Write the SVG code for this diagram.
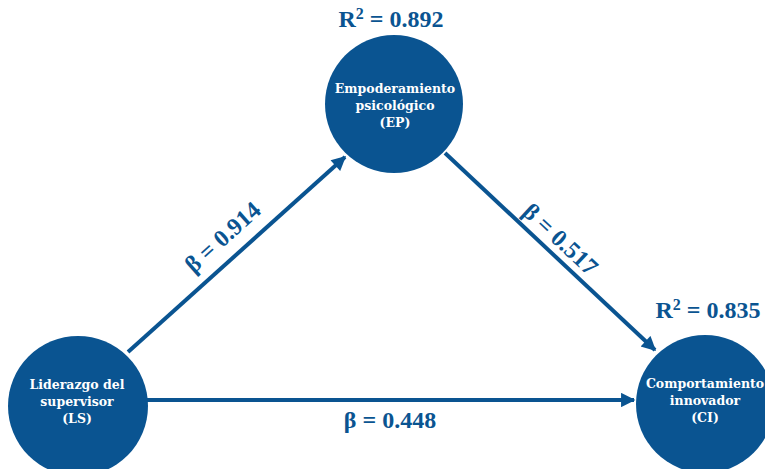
<svg xmlns="http://www.w3.org/2000/svg" width="765" height="469" viewBox="0 0 765 469">
<style>
.node{fill:#0a5491}
.nt{font-family:"DejaVu Serif","Liberation Serif",serif;font-weight:bold;font-size:12.5px;fill:#fff;text-anchor:middle}
.lbl{font-family:"Liberation Serif","Times New Roman",serif;font-weight:bold;font-size:24px;fill:#0a5491;text-anchor:middle}
.sup{font-size:16px;baseline-shift:8px}
.edge{stroke:#0a5491;stroke-width:4;fill:none}
</style>
<defs>
<marker id="ah" viewBox="0 0 10 10" refX="9" refY="5" markerWidth="4" markerHeight="3.6" orient="auto" markerUnits="strokeWidth">
<path d="M0,0 L10,5 L0,10 z" fill="#0a5491"/>
</marker>
</defs>
<rect width="765" height="469" fill="#fff"/>
<g id="connectors">
<line class="edge" x1="128" y1="352" x2="345" y2="157" marker-end="url(#ah)"/>
<line class="edge" x1="445" y1="153" x2="655" y2="350" marker-end="url(#ah)"/>
<line class="edge" x1="147" y1="400" x2="634" y2="400" marker-end="url(#ah)"/>
<text class="lbl" transform="translate(228,243) rotate(-42)">β = 0.914</text>
<text class="lbl" transform="translate(555,245) rotate(43.2)">β = 0.517</text>
<text class="lbl" x="390" y="428">β = 0.448</text>
</g>
<g id="EP">
<circle class="node" cx="394" cy="104" r="69"/>
<text class="nt" x="395" y="92.5">Empoderamiento</text>
<text class="nt" x="395" y="109.5">psicológico</text>
<text class="nt" x="395" y="126.5">(EP)</text>
<text class="lbl" x="391" y="27">R<tspan class="sup">2</tspan> = 0.892</text>
</g>
<g id="LS">
<circle class="node" cx="78" cy="406" r="70"/>
<text class="nt" x="77" y="388.5">Liderazgo del</text>
<text class="nt" x="77" y="405.5">supervisor</text>
<text class="nt" x="77" y="422.5">(LS)</text>
</g>
<g id="CI">
<circle class="node" cx="705" cy="404" r="69"/>
<text class="nt" x="705" y="387.5">Comportamiento</text>
<text class="nt" x="705" y="404.5">innovador</text>
<text class="nt" x="705" y="421.5">(CI)</text>
<text class="lbl" x="708" y="318">R<tspan class="sup">2</tspan> = 0.835</text>
</g>
</svg>
